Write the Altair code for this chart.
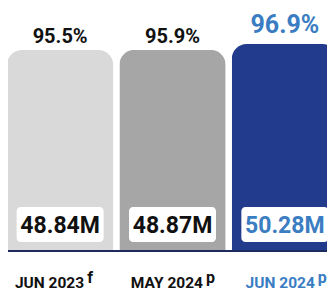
import altair as alt
import pandas as pd

cats = ["JUN 2023", "MAY 2024", "JUN 2024"]
sups = ["f", "p", "p"]
values_m = [48.84, 48.87, 50.28]
pcts = [95.5, 95.9, 96.9]

HL = "JUN 2024"
BLUE = "#3a7dc2"
FONT = "Roboto"

df = pd.DataFrame({
    "cat": cats,
    "sup": sups,
    "value": values_m,
    "pct": pcts,
})
df["pct_label"] = df["pct"].map(lambda v: f"{v:.1f}%")
df["val_label"] = df["value"].map(lambda v: f"{v:.2f}M")

W, H = 319, 243
YDOM = [0, 59.05]
xs = alt.X("cat:N", sort=cats, axis=None,
           scale=alt.Scale(paddingInner=0.054, paddingOuter=0, range=[-1, 330]))
ys = alt.Y("value:Q", axis=None, scale=alt.Scale(domain=YDOM, nice=False, zero=True))

base = alt.Chart(df)
txt_color = alt.condition(alt.datum.cat == HL, alt.value(BLUE), alt.value("#111111"))

bars = base.mark_bar(cornerRadiusTopLeft=15, cornerRadiusTopRight=15).encode(
    x=xs, y=ys,
    color=alt.Color("cat:N", sort=cats, legend=None,
                    scale=alt.Scale(domain=cats, range=["#d9d9d9", "#a6a6a6", "#223b8c"])),
)

pct_norm = base.transform_filter(alt.datum.cat != HL).mark_text(
    font=FONT, fontSize=20, fontWeight="bold", baseline="alphabetic", dy=-7, color="#111111"
).encode(x=xs, y=ys, text="pct_label:N")

pct_hl = base.transform_filter(alt.datum.cat == HL).mark_text(
    font=FONT, fontSize=25, fontWeight="bold", baseline="alphabetic", dy=-11, color=BLUE
).encode(x=xs, y=ys, text="pct_label:N")

boxes = base.mark_bar(width=87, cornerRadius=4, color="white").encode(
    x=xs, y=alt.value(199), y2=alt.value(234)
)

val_text = base.mark_text(font=FONT, fontSize=23, fontWeight="bold", baseline="alphabetic").encode(
    x=xs, y=alt.value(225), text="val_label:N", color=txt_color
)

baseline = base.transform_filter(alt.datum.cat == HL).transform_calculate(zero="0").mark_rule(
    color="#1c2a5c", strokeWidth=2
).encode(
    y=alt.Y("zero:Q", axis=None, scale=alt.Scale(domain=YDOM, nice=False, zero=True)),
    x=alt.value(-1), x2=alt.value(W + 10),
)

# right edge of each category label relative to its bar centre (layout only)
label_right = {"JUN 2023": 24, "MAY 2024": 30.5, "JUN 2024": 30}
label_layers = []
for c, d in label_right.items():
    sub = base.transform_filter(alt.datum.cat == c)
    label_layers.append(
        sub.mark_text(font=FONT, fontSize=15.5, fontWeight="bold", baseline="alphabetic",
                      align="right", dx=d).encode(
            x=xs, y=alt.value(280), text="cat:N", color=txt_color)
    )
    label_layers.append(
        sub.mark_text(font=FONT, fontSize=16, fontWeight="bold", baseline="alphabetic",
                      align="left", dx=d + 3).encode(
            x=xs, y=alt.value(275), text="sup:N", color=txt_color)
    )

chart = alt.layer(bars, baseline, pct_norm, pct_hl, boxes, val_text, *label_layers).properties(
    width=W, height=H,
    autosize=alt.AutoSizeParams(type="none"),
    padding={"left": 0, "top": 0, "right": 0, "bottom": 41},
).configure_view(stroke=None)

chart.save("out.html", embed_options={"renderer": "svg", "actions": False})
